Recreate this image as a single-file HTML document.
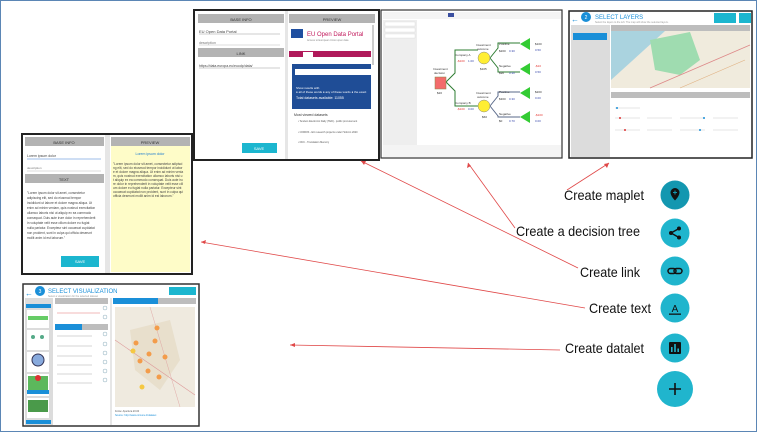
<!DOCTYPE html>
<html><head><meta charset="utf-8"><style>
html,body{margin:0;padding:0;background:#fff}
svg{display:block}
text{font-family:"Liberation Sans",sans-serif}
</style></head><body>
<svg width="757" height="432" viewBox="0 0 757 432" xmlns="http://www.w3.org/2000/svg">
<rect x="0.5" y="0.5" width="756" height="431" fill="#fff" stroke="#5b86b5" stroke-width="1"/>

<!-- Screenshot: link -->
<g>
<rect x="194" y="10" width="185" height="150" fill="#fff" stroke="#222" stroke-width="2"/>
<rect x="285" y="11" width="3" height="148" fill="#e6e6e6"/>
<rect x="198" y="14" width="86" height="9" fill="#b3b3b3"/><text x="241" y="21" font-size="4" text-anchor="middle" fill="#333">BASE INFO</text>
<text x="199" y="33" font-size="4" fill="#444">EU Open Data Portal</text><line x1="199" y1="34" x2="280" y2="34" stroke="#999" stroke-width="0.5"/>
<text x="199" y="44" font-size="3.5" fill="#777">description</text><line x1="199" y1="45" x2="280" y2="45" stroke="#bbb" stroke-width="0.5"/>
<rect x="198" y="48" width="86" height="9" fill="#b3b3b3"/><text x="241" y="55" font-size="4" text-anchor="middle" fill="#333">LINK</text>
<text x="199" y="67" font-size="3.5" fill="#444">https://data.europa.eu/euodp/data/</text><line x1="199" y1="68" x2="280" y2="68" stroke="#999" stroke-width="0.5"/>
<rect x="242" y="143" width="35" height="10" fill="#1cb6cf"/><text x="259" y="150" font-size="4" fill="#fff" text-anchor="middle">SAVE</text>
<rect x="289" y="14" width="86" height="9" fill="#b3b3b3"/><text x="332" y="21" font-size="4" text-anchor="middle" fill="#333">PREVIEW</text>
<rect x="291" y="29" width="12" height="9" fill="#1f4fa0"/>
<text x="307" y="36" font-size="6" fill="#c2185b">EU Open Data Portal</text>
<text x="307" y="41" font-size="2.5" fill="#888">Access to European Union open data</text>
<rect x="289" y="51" width="82" height="6" fill="#b0195a"/>
<rect x="303" y="52" width="10" height="5" fill="#fff"/>
<rect x="292" y="64" width="79" height="45" fill="#1f4d96"/>
<rect x="295" y="69" width="76" height="6" fill="#fff"/>
<text x="296" y="89" font-size="3" fill="#fff">Show results with</text>
<text x="296" y="93" font-size="3" fill="#fff">● all of these words ● any of these words ● the exact</text>
<text x="296" y="99" font-size="3.5" fill="#fff">Total datasets available: 11055</text>
<text x="294" y="116" font-size="3.5" fill="#333">Most viewed datasets</text>
<text x="298" y="122" font-size="2.5" fill="#555">• Tenders Electronic Daily (TED) - public procurement</text>
<text x="298" y="133" font-size="2.5" fill="#555">• CORDIS - EU research projects under Horizon 2020</text>
<text x="298" y="143" font-size="2.5" fill="#555">• DCC - Translation Memory</text>
<rect x="372" y="25" width="2" height="40" fill="#ccc"/>
</g>

<!-- Screenshot: text -->
<g>
<rect x="22" y="134" width="170" height="140" fill="#fff" stroke="#222" stroke-width="2"/>
<rect x="105" y="135" width="5" height="138" fill="#e6e6e6"/>
<rect x="25" y="137" width="79" height="9" fill="#b3b3b3"/><text x="64" y="144" font-size="4" text-anchor="middle" fill="#333">BASE INFO</text>
<text x="27" y="157" font-size="3.5" fill="#444">Lorem ipsum dolor</text><line x1="27" y1="159" x2="101" y2="159" stroke="#3a7bd5" stroke-width="0.6"/>
<text x="27" y="169" font-size="3" fill="#777">description</text><line x1="27" y1="171" x2="101" y2="171" stroke="#bbb" stroke-width="0.5"/>
<rect x="25" y="174" width="79" height="9" fill="#b3b3b3"/><text x="64" y="181" font-size="4" text-anchor="middle" fill="#333">TEXT</text>
<g font-size="3.2" fill="#444">
<text x="27" y="194">"Lorem ipsum dolor sit amet, consectetur</text>
<text x="27" y="199">adipiscing elit, sed do eiusmod tempor</text>
<text x="27" y="204">incididunt ut labore et dolore magna aliqua. Ut</text>
<text x="27" y="209">enim ad minim veniam, quis nostrud exercitation</text>
<text x="27" y="214">ullamco laboris nisi ut aliquip ex ea commodo</text>
<text x="27" y="219">consequat. Duis aute irure dolor in reprehenderit</text>
<text x="27" y="224">in voluptate velit esse cillum dolore eu fugiat</text>
<text x="27" y="229">nulla pariatur. Excepteur sint occaecat cupidatat</text>
<text x="27" y="234">non proident, sunt in culpa qui officia deserunt</text>
<text x="27" y="239">mollit anim id est laborum."</text>
</g>
<rect x="61" y="256" width="38" height="11" fill="#1cb6cf"/><text x="80" y="263" font-size="4" fill="#fff" text-anchor="middle">SAVE</text>
<rect x="111" y="137" width="79" height="9" fill="#b3b3b3"/><text x="150" y="144" font-size="4" text-anchor="middle" fill="#333">PREVIEW</text>
<rect x="111" y="146" width="79" height="126" fill="#fefcc8"/>
<text x="150" y="155" font-size="3.5" text-anchor="middle" fill="#1a7bd0">Lorem ipsum dolor</text>
<g font-size="3.2" fill="#444">
<text x="113" y="165">"Lorem ipsum dolor sit amet, consectetur adipisci</text>
<text x="113" y="169">ng elit, sed do eiusmod tempor incididunt ut labor</text>
<text x="113" y="173">e et dolore magna aliqua. Ut enim ad minim venia</text>
<text x="113" y="177">m, quis nostrud exercitation ullamco laboris nisi u</text>
<text x="113" y="181">t aliquip ex ea commodo consequat. Duis aute iru</text>
<text x="113" y="185">re dolor in reprehenderit in voluptate velit esse cill</text>
<text x="113" y="189">um dolore eu fugiat nulla pariatur. Excepteur sint</text>
<text x="113" y="193">occaecat cupidatat non proident, sunt in culpa qui</text>
<text x="113" y="197">officia deserunt mollit anim id est laborum."</text>
</g>
</g>

<!-- Screenshot: decision tree -->
<g>
<rect x="381" y="10" width="181" height="148" fill="#fff" stroke="#333" stroke-width="1.2"/>
<rect x="383" y="12" width="178" height="7" fill="#f4f4f4"/>
<rect x="448" y="13" width="6" height="4" fill="#3a4fa0"/>
<rect x="383" y="20" width="34" height="125" fill="#eeeeee"/>
<rect x="385" y="22" width="30" height="4" fill="#fff" stroke="#ccc" stroke-width="0.3"/>
<rect x="385" y="28" width="30" height="4" fill="#fff" stroke="#ccc" stroke-width="0.3"/>
<rect x="385" y="34" width="30" height="4" fill="#fff" stroke="#ccc" stroke-width="0.3"/>
<rect x="383" y="145" width="178" height="12" fill="#f4f4f4"/>
<g fill="none" stroke="#2e7d32" stroke-width="1">
<polyline points="446,82 455,73 455,50 478,50"/>
<polyline points="446,82 455,91 455,106 478,106"/>
<polyline points="490,58 498,48 498,43 520,43"/>
<polyline points="490,58 498,68 498,72 520,72"/>
<polyline points="490,106 498,96 498,92 520,92" stroke="#5a6a8a"/>
<polyline points="490,106 498,116 498,117 520,117" stroke="#5a6a8a"/>
</g>
<rect x="435" y="77" width="11" height="12" fill="#f36b6b" stroke="#884" stroke-width="0.5"/>
<circle cx="484" cy="58" r="6" fill="#ffee33" stroke="#888" stroke-width="0.5"/>
<circle cx="484" cy="106" r="6" fill="#ffee33" stroke="#888" stroke-width="0.5"/>
<g fill="#33cc33"><polygon points="520,44 530,38 530,50"/><polygon points="520,69 530,63 530,75"/><polygon points="520,93 530,87 530,99"/><polygon points="520,117 530,111 530,123"/></g>
<g font-size="3" fill="#333">
<text x="433" y="70">Investment</text><text x="434" y="74">decision</text><text x="437" y="94">$20</text>
<text x="455" y="56">Company A</text><text x="455" y="104">Company B</text>
<text x="476" y="46">Investment</text><text x="477" y="50">outcome</text><text x="480" y="70">$105</text>
<text x="476" y="94">Investment</text><text x="477" y="98">outcome</text><text x="482" y="118">$60</text>
<text x="499" y="45">Positive</text><text x="499" y="67">Negative</text><text x="499" y="93">Positive</text><text x="499" y="115">Negative</text>
<text x="499" y="52">$200</text><text x="499" y="74">$90</text><text x="499" y="100">$300</text><text x="499" y="122">$0</text>
<text x="535" y="45">$100</text><text x="535" y="93">$200</text>
</g>
<g font-size="3" fill="#e53935"><text x="457" y="62">-$100</text><text x="457" y="110">-$100</text><text x="535" y="67">-$10</text><text x="535" y="116">-$100</text></g>
<g font-size="3" fill="#3949ab"><text x="468" y="62">1.00</text><text x="468" y="110">0.00</text><text x="509" y="52">0.30</text><text x="509" y="74">0.30</text><text x="509" y="100">0.30</text><text x="509" y="122">0.70</text><text x="535" y="51">0.50</text><text x="535" y="73">0.50</text><text x="535" y="99">0.00</text><text x="535" y="122">0.00</text></g>
</g>

<!-- Screenshot: maplet -->
<g>
<rect x="569" y="11" width="183" height="147" fill="#fff" stroke="#222" stroke-width="1.5"/>
<text x="571" y="22" font-size="8" fill="#1a8fd8">←</text>
<circle cx="586" cy="17" r="5" fill="#1a8fd8"/><text x="586" y="19" font-size="5" fill="#fff" text-anchor="middle">2</text>
<text x="595" y="19" font-size="6" fill="#1a8fd8">SELECT LAYERS</text>
<text x="595" y="23" font-size="2.5" fill="#999">Select the layers to the left. The map will show the selected layers.</text>
<rect x="714" y="13" width="22" height="10" fill="#1cb6cf"/><rect x="739" y="13" width="12" height="10" fill="#1cb6cf"/>
<rect x="571" y="25" width="39" height="132" fill="#dcdcdc"/>
<rect x="573" y="33" width="34" height="7" fill="#1a8fd8"/>
<rect x="611" y="25" width="139" height="6" fill="#bdbdbd"/>
<rect x="611" y="31" width="139" height="57" fill="#f0ebdd"/>
<polygon points="611,31 665,31 611,80" fill="#aad3df"/>
<polygon points="650,40 690,32 700,60 680,75 655,70" fill="#9fdcb0"/>
<line x1="650" y1="88" x2="750" y2="45" stroke="#d88" stroke-width="0.8"/>
<line x1="680" y1="88" x2="745" y2="60" stroke="#e0b080" stroke-width="0.6"/>
<rect x="611" y="92" width="139" height="6" fill="#bdbdbd"/>
<g stroke="#ccc" stroke-width="0.5"><line x1="615" y1="108" x2="640" y2="108"/><line x1="615" y1="118" x2="640" y2="118"/><line x1="647" y1="118" x2="672" y2="118"/><line x1="680" y1="118" x2="705" y2="118"/><line x1="713" y1="118" x2="738" y2="118"/><line x1="615" y1="130" x2="640" y2="130"/><line x1="647" y1="130" x2="672" y2="130"/><line x1="680" y1="130" x2="705" y2="130"/><line x1="713" y1="130" x2="738" y2="130"/></g>
<g fill="#1a8fd8"><circle cx="617" cy="108" r="1"/><circle cx="704" cy="118" r="1"/><circle cx="700" cy="130" r="1"/></g>
<g fill="#d33"><circle cx="620" cy="118" r="1"/><circle cx="625" cy="130" r="1"/></g>
</g>

<!-- Screenshot: datalet -->
<g>
<rect x="23" y="284" width="176" height="142" fill="#fff" stroke="#333" stroke-width="1.5"/>
<text x="25" y="296" font-size="8" fill="#1a8fd8">←</text>
<circle cx="40" cy="291" r="5" fill="#1a8fd8"/><text x="40" y="293" font-size="5" fill="#fff" text-anchor="middle">3</text>
<text x="48" y="293" font-size="6" fill="#1a8fd8">SELECT VISUALIZATION</text>
<text x="48" y="297" font-size="2.5" fill="#999">Select a visualization for the selected dataset</text>
<rect x="169" y="287" width="27" height="8" fill="#1cb6cf"/>
<rect x="25" y="298" width="28" height="127" fill="#dcdcdc"/>
<rect x="26" y="304" width="25" height="4" fill="#1a8fd8"/>
<rect x="27" y="310" width="22" height="18" fill="#fff"/><rect x="28" y="316" width="20" height="4" fill="#6c6"/>
<rect x="27" y="330" width="22" height="20" fill="#fff"/><circle cx="33" cy="337" r="2" fill="#5a8"/><circle cx="42" cy="337" r="2" fill="#5a8"/>
<rect x="27" y="352" width="22" height="20" fill="#fff"/><circle cx="38" cy="360" r="6" fill="#88aadd" stroke="#335" stroke-width="1"/>
<rect x="27" y="374" width="22" height="22" fill="#fff"/><rect x="28" y="376" width="20" height="14" fill="#5cb85c"/><circle cx="38" cy="378" r="3" fill="#d33"/><rect x="27" y="390" width="22" height="4" fill="#1a8fd8"/>
<rect x="27" y="398" width="22" height="20" fill="#fff"/><rect x="28" y="400" width="20" height="12" fill="#4a9a4a"/>
<rect x="26" y="420" width="25" height="4" fill="#1a8fd8"/>
<rect x="55" y="298" width="53" height="6" fill="#bdbdbd"/>
<line x1="57" y1="313" x2="100" y2="313" stroke="#e57373" stroke-width="0.5"/>
<rect x="55" y="324" width="27" height="6" fill="#1a8fd8"/><rect x="82" y="324" width="26" height="6" fill="#bdbdbd"/>
<g stroke="#aaa" stroke-width="0.5"><line x1="57" y1="336" x2="92" y2="336"/><line x1="57" y1="346" x2="92" y2="346"/><line x1="57" y1="356" x2="92" y2="356"/><line x1="57" y1="365" x2="92" y2="365"/><line x1="57" y1="374" x2="92" y2="374"/><line x1="57" y1="383" x2="92" y2="383"/></g>
<g fill="none" stroke="#8ab" stroke-width="0.5"><circle cx="105" cy="308" r="2"/><circle cx="105" cy="317" r="2"/><circle cx="105" cy="334" r="2"/><circle cx="105" cy="344" r="2"/><circle cx="105" cy="353" r="2"/><circle cx="105" cy="362" r="2"/><circle cx="105" cy="371" r="2"/><circle cx="105" cy="380" r="2"/></g>
<rect x="110" y="298" width="2" height="127" fill="#e6e6e6"/>
<rect x="113" y="298" width="45" height="6" fill="#1a8fd8"/><rect x="158" y="298" width="38" height="6" fill="#bdbdbd"/>
<rect x="115" y="307" width="80" height="100" fill="#efeadf"/>
<polygon points="130,330 170,320 180,360 160,390 135,370" fill="#e8dfcc"/>
<line x1="115" y1="340" x2="195" y2="395" stroke="#d99" stroke-width="0.6"/>
<line x1="150" y1="307" x2="180" y2="407" stroke="#d99" stroke-width="0.4"/>
<g fill="#f39c4a"><circle cx="157" cy="328" r="2.5"/><circle cx="136" cy="343" r="2.5"/><circle cx="155" cy="341" r="2.5"/><circle cx="149" cy="354" r="2.5"/><circle cx="165" cy="357" r="2.5"/><circle cx="140" cy="361" r="2.5"/><circle cx="148" cy="371" r="2.5"/><circle cx="159" cy="377" r="2.5"/></g>
<g fill="#f5c842"><circle cx="133" cy="351" r="2.5"/><circle cx="142" cy="387" r="2.5"/></g>
<text x="115" y="412" font-size="2.5" fill="#555">Fonte: Apertura 20.00</text>
<text x="115" y="416" font-size="2.5" fill="#1a8fd8">Source: http://www.comune.it/dataset</text>
</g>

<!-- arrows -->
<g stroke="#e04848" stroke-width="0.8" fill="#e04848">
<line x1="567" y1="190" x2="609" y2="163"/><polygon points="609,163 604,164 607,168" stroke="none"/>
<line x1="515" y1="228" x2="468" y2="163"/><polygon points="468,163 467,168 471,166" stroke="none"/>
<line x1="578" y1="268" x2="361" y2="161"/><polygon points="361,161 364,165 366,161" stroke="none"/>
<line x1="585" y1="308" x2="201" y2="242"/><polygon points="201,242 205,244 206,240" stroke="none"/>
<line x1="560" y1="350" x2="290" y2="345"/><polygon points="290,345 295,347 295,343" stroke="none"/>
</g>

<!-- labels -->
<g font-size="14" fill="#111">
<text x="564" y="200" textLength="80" lengthAdjust="spacingAndGlyphs">Create maplet</text>
<text x="516" y="236" textLength="124" lengthAdjust="spacingAndGlyphs">Create a decision tree</text>
<text x="580" y="277" textLength="60" lengthAdjust="spacingAndGlyphs">Create link</text>
<text x="589" y="313" textLength="62" lengthAdjust="spacingAndGlyphs">Create text</text>
<text x="565" y="353" textLength="79" lengthAdjust="spacingAndGlyphs">Create datalet</text>
</g>

<!-- buttons -->
<circle cx="675" cy="195" r="14.5" fill="#1397b0"/>
<path d="M675 188 a4.5 4.5 0 0 1 4.5 4.5 c0 3.5 -4.5 8 -4.5 8 c0 0 -4.5 -4.5 -4.5 -8 a4.5 4.5 0 0 1 4.5 -4.5z" fill="#111"/>
<path d="M673 192.5h4M675 190.5v4" stroke="#1397b0" stroke-width="1"/>
<circle cx="675" cy="233" r="14.5" fill="#20b5cd"/>
<g fill="#111"><circle cx="671" cy="233" r="2"/><circle cx="679" cy="228.5" r="2"/><circle cx="679" cy="237.5" r="2"/></g>
<path d="M671 233L679 228.5M671 233L679 237.5" stroke="#111" stroke-width="1.3"/>
<circle cx="675" cy="271" r="14.5" fill="#20b5cd"/>
<rect x="668" y="268.5" width="8" height="5" rx="2.5" fill="none" stroke="#111" stroke-width="1.5"/>
<rect x="674" y="268.5" width="8" height="5" rx="2.5" fill="none" stroke="#111" stroke-width="1.5"/>
<circle cx="675" cy="308" r="14.5" fill="#20b5cd"/>
<text x="675" y="312" font-size="10" text-anchor="middle" fill="#111">A</text>
<rect x="669" y="313.5" width="12" height="1.3" fill="#111"/>
<circle cx="675" cy="348" r="14.5" fill="#20b5cd"/>
<rect x="669" y="342" width="12" height="12" rx="1" fill="#111"/>
<g fill="#20b5cd"><rect x="671" y="347" width="1.6" height="5"/><rect x="674.2" y="344" width="1.6" height="8"/><rect x="677.4" y="348.5" width="1.6" height="3.5"/></g>
<circle cx="675" cy="389" r="18" fill="#20b5cd"/>
<path d="M669 389h12M675 383v12" stroke="#111" stroke-width="1.6"/>
</svg>
</body></html>
